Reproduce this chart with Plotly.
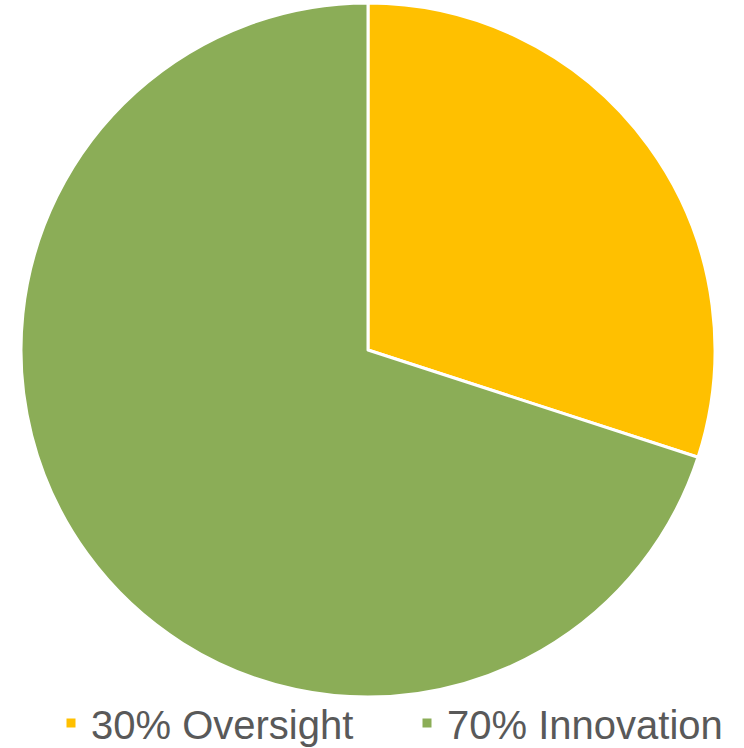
import plotly.graph_objects as go

labels = ["30% Oversight", "70% Innovation"]
values = [30, 70]
colors = ["#FFC000", "#8BAD57"]

W, H = 744, 748
fig = go.Figure(go.Pie(
    labels=labels, values=values, sort=False, direction="clockwise", rotation=0,
    marker=dict(colors=colors, line=dict(color="white", width=3)),
    textinfo="none", hoverinfo="label+percent",
    domain=dict(x=[21 / W, 715 / W], y=[1 - 697 / H, 1 - 3 / H]),
))
fig.update_layout(
    width=W, height=H, margin=dict(l=0, r=0, t=0, b=0, autoexpand=False),
    paper_bgcolor="white", plot_bgcolor="white",
    showlegend=True,
    legend=dict(orientation="h", x=51 / W, xanchor="left", y=1 - 723 / H, yanchor="middle",
                font=dict(family="Liberation Sans, Arial, sans-serif", size=40, color="#595959"),
                entrywidth=311, entrywidthmode="pixels", itemwidth=30,
                bgcolor="rgba(0,0,0,0)"),
)
fig.write_html("out.html", config={"displayModeBar": False},
               post_script="document.body.style.margin='0';")
